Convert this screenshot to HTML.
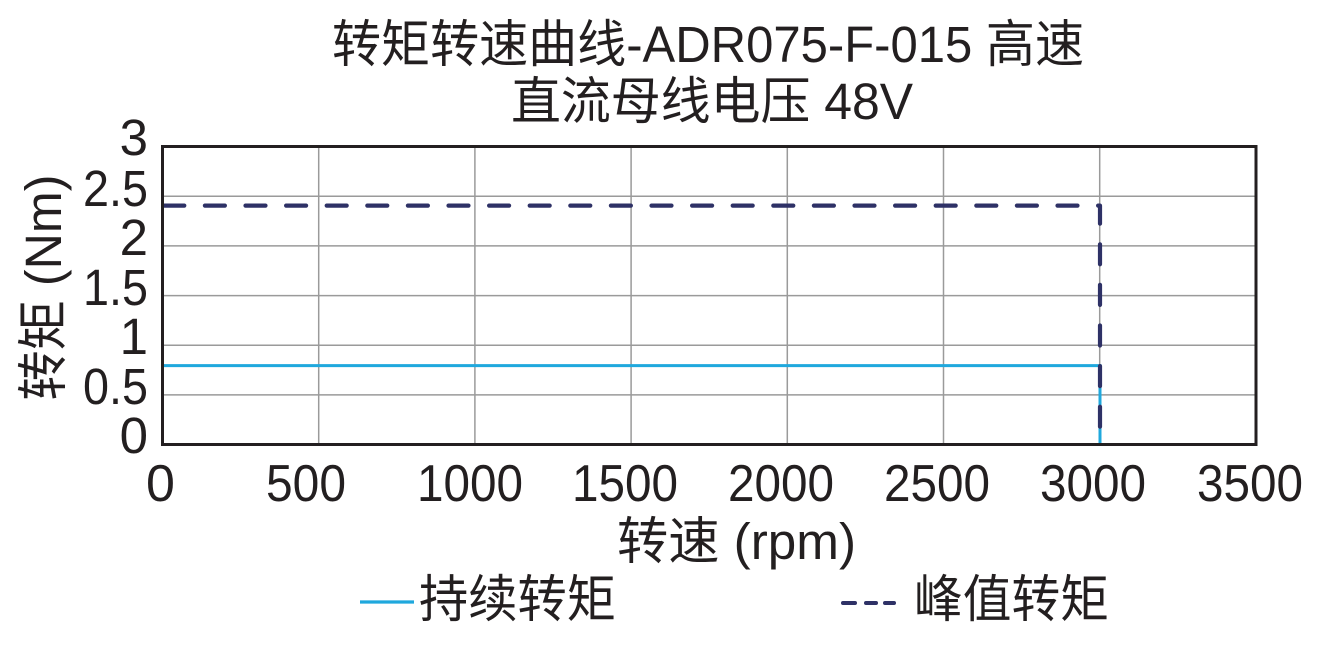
<!DOCTYPE html>
<html>
<head>
<meta charset="utf-8">
<style>
  html, body { margin: 0; padding: 0; background: #ffffff; }
  body { width: 1340px; height: 654px; overflow: hidden; }
  svg { display: block; }
  text { font-family: "Liberation Sans", "Noto Sans CJK SC", sans-serif; fill: #231f20; }
</style>
</head>
<body>
<svg width="1340" height="654" viewBox="0 0 1340 654" xmlns="http://www.w3.org/2000/svg">
  <rect x="0" y="0" width="1340" height="654" fill="#ffffff"/>

  <!-- Title -->
  <text x="332" y="62" font-size="51" textLength="752" lengthAdjust="spacingAndGlyphs">转矩转速曲线-ADR075-F-015 高速</text>
  <text x="511" y="119" font-size="51" textLength="402" lengthAdjust="spacingAndGlyphs">直流母线电压 48V</text>

  <!-- Grid -->
  <g stroke="#9a9a9a" stroke-width="1.5" fill="none">
    <line x1="318.7" y1="146.5" x2="318.7" y2="444.5"/>
    <line x1="474.9" y1="146.5" x2="474.9" y2="444.5"/>
    <line x1="631.1" y1="146.5" x2="631.1" y2="444.5"/>
    <line x1="787.3" y1="146.5" x2="787.3" y2="444.5"/>
    <line x1="943.5" y1="146.5" x2="943.5" y2="444.5"/>
    <line x1="1099.7" y1="146.5" x2="1099.7" y2="444.5"/>
    <line x1="162.5" y1="196.3" x2="1256" y2="196.3"/>
    <line x1="162.5" y1="245.9" x2="1256" y2="245.9"/>
    <line x1="162.5" y1="295.6" x2="1256" y2="295.6"/>
    <line x1="162.5" y1="345.3" x2="1256" y2="345.3"/>
    <line x1="162.5" y1="394.9" x2="1256" y2="394.9"/>
  </g>

  <!-- Continuous torque (blue) -->
  <polyline points="162.5,365.6 1100,365.6 1100,444.5" fill="none" stroke="#1fa8dd" stroke-width="3"/>

  <!-- Peak torque (dashed navy) -->
  <polyline points="162.5,205.6 1100,205.6 1100,444" fill="none" stroke="#2e3166" stroke-width="4.2"
            stroke-dasharray="20 20.6" stroke-dashoffset="38.8" stroke-linecap="round" stroke-linejoin="round"/>

  <!-- Frame -->
  <rect x="162.5" y="146.5" width="1093.5" height="298" fill="none" stroke="#231f20" stroke-width="3"/>

  <!-- Y tick labels -->
  <g font-size="51" text-anchor="end">
    <text x="148" y="155">3</text>
    <text x="148" y="206" textLength="65" lengthAdjust="spacingAndGlyphs">2.5</text>
    <text x="148" y="255">2</text>
    <text x="148" y="305" textLength="65" lengthAdjust="spacingAndGlyphs">1.5</text>
    <text x="148" y="354">1</text>
    <text x="148" y="404" textLength="65" lengthAdjust="spacingAndGlyphs">0.5</text>
    <text x="148" y="453">0</text>
  </g>

  <!-- X tick labels -->
  <g font-size="52" text-anchor="middle">
    <text x="160.5" y="501">0</text>
    <text x="306" y="501" textLength="80" lengthAdjust="spacingAndGlyphs">500</text>
    <text x="470" y="501" textLength="106" lengthAdjust="spacingAndGlyphs">1000</text>
    <text x="625" y="501" textLength="106" lengthAdjust="spacingAndGlyphs">1500</text>
    <text x="781" y="501" textLength="106" lengthAdjust="spacingAndGlyphs">2000</text>
    <text x="937" y="501" textLength="106" lengthAdjust="spacingAndGlyphs">2500</text>
    <text x="1093" y="501" textLength="106" lengthAdjust="spacingAndGlyphs">3000</text>
    <text x="1250" y="501" textLength="106" lengthAdjust="spacingAndGlyphs">3500</text>
  </g>

  <!-- Axis titles -->
  <text x="617" y="559" font-size="51" textLength="239" lengthAdjust="spacingAndGlyphs">转速 (rpm)</text>
  <text transform="translate(61,287.5) rotate(-90)" x="0" y="0" font-size="51" text-anchor="middle" textLength="226" lengthAdjust="spacingAndGlyphs">转矩 (Nm)</text>

  <!-- Legend -->
  <line x1="360" y1="602" x2="414" y2="602" stroke="#1fa8dd" stroke-width="3.2"/>
  <text x="419" y="617" font-size="51" textLength="197" lengthAdjust="spacingAndGlyphs">持续转矩</text>

  <g stroke="#2e3166" stroke-width="4" stroke-linecap="round">
    <line x1="843" y1="603" x2="855" y2="603"/>
    <line x1="866" y1="603" x2="876" y2="603"/>
    <line x1="885" y1="603" x2="894" y2="603"/>
  </g>
  <text x="914" y="617" font-size="51" textLength="195" lengthAdjust="spacingAndGlyphs">峰值转矩</text>
</svg>
</body>
</html>
